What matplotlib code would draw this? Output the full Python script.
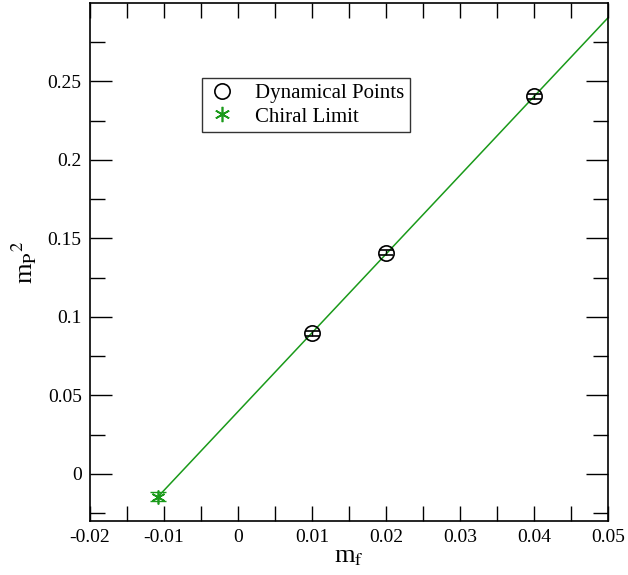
import matplotlib.pyplot as plt
from matplotlib.lines import Line2D
from matplotlib.ticker import MultipleLocator

# data
mf = [0.01, 0.02, 0.04]
mp2 = [0.0895, 0.141, 0.2405]
mp2_err = [0.0015, 0.0015, 0.0015]

chiral_x = [-0.0108]
chiral_y = [-0.0145]
chiral_err = [0.003]

fit_x = [-0.0108, 0.05]
fit_y = [-0.0145, 0.2905]

plt.rcParams['font.family'] = ['Liberation Serif', 'DejaVu Serif']
plt.rcParams['mathtext.fontset'] = 'stix'

fig = plt.figure(figsize=(6.28, 5.75), dpi=100)
ax = fig.add_axes([90 / 628, 1 - 521 / 575, 518 / 628, 518 / 575])

green = '#1a9a1a'
ax.plot(fit_x, fit_y, color=green, lw=1.1, zorder=1)

ax.errorbar(mf, mp2, yerr=mp2_err, fmt='o', ms=11, mfc='none', mec='black',
            mew=1.2, ecolor='black', elinewidth=1.0, capsize=5, capthick=1.0,
            zorder=3)
ax.errorbar(chiral_x, chiral_y, yerr=chiral_err, fmt='none', ecolor=green,
            elinewidth=1.0, capsize=5.5, capthick=1.0, zorder=3)
ax.plot(chiral_x, chiral_y, ls='none', marker=(6, 2, 0), ms=10, mec=green,
        mew=1.2, zorder=4)

ax.set_xlim(-0.02, 0.05)
ax.set_ylim(-0.03, 0.2999)

ax.xaxis.set_major_locator(MultipleLocator(0.01))
ax.xaxis.set_minor_locator(MultipleLocator(0.005))
ax.yaxis.set_major_locator(MultipleLocator(0.05))
ax.yaxis.set_minor_locator(MultipleLocator(0.025))
fmt = plt.FuncFormatter(lambda v, p: '0' if abs(v) < 1e-9 else f'{v:g}')
ax.xaxis.set_major_formatter(fmt)
ax.yaxis.set_major_formatter(fmt)

ax.tick_params(which='both', direction='in', top=True, right=True,
               labelsize=14, width=1.0, pad=6)
ax.tick_params(axis='y', which='major', length=15.8)
ax.tick_params(axis='y', which='minor', length=10.8)
ax.tick_params(axis='x', which='both', length=10.8)
for s in ax.spines.values():
    s.set_linewidth(1.2)

ax.set_xlabel('m$_\\mathrm{f}$', fontsize=19, labelpad=0)
ax.set_ylabel('m$_\\mathrm{P}$$^2$', fontsize=19, labelpad=6)

handles = [
    Line2D([], [], ls='none', marker='o', ms=11, mfc='none', mec='black', mew=1.2),
    Line2D([], [], ls='none', marker=(6, 2, 0), ms=11, mec=green, mew=1.2),
]
leg = ax.legend(handles, ['Dynamical Points', 'Chiral Limit'],
                loc='upper left', bbox_to_anchor=(112 / 518, 1 - 75 / 518),
                fontsize=15, frameon=True, fancybox=False, edgecolor='black',
                borderpad=0.25, handletextpad=0.9, labelspacing=0.2,
                handlelength=1.4, borderaxespad=0)
leg.get_frame().set_linewidth(1.0)

fig.savefig('out.png', dpi=100)
